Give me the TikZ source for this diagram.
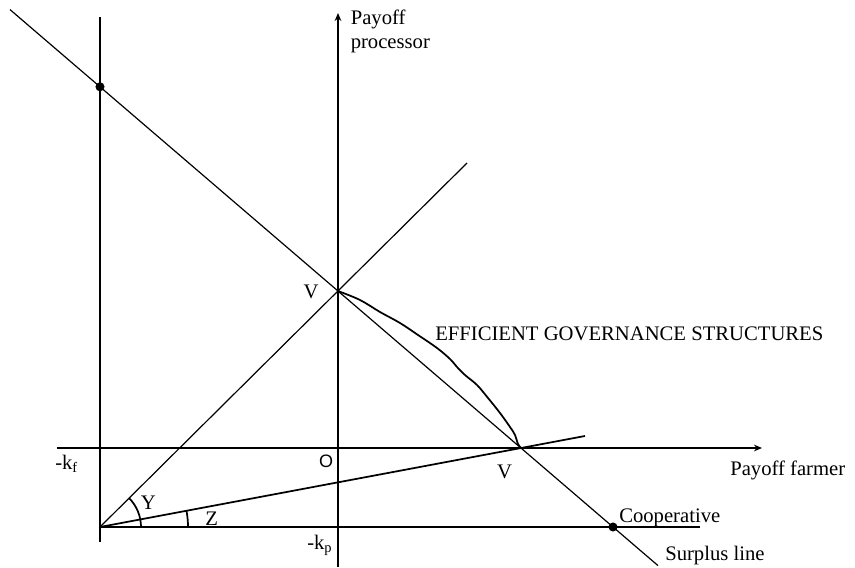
\documentclass[tikz,border=0pt]{standalone}
\usepackage{fontspec}
\setmainfont{Liberation Serif}
\newfontfamily\arialfont{Liberation Sans}
\usetikzlibrary{arrows.meta}

\begin{document}
\begin{tikzpicture}[x=0.75pt, y=0.75pt, font=\fontsize{15.5}{17.5}\selectfont,
    thickline/.style={black, line width=1.3pt},
    thinline/.style={black, line width=0.9pt},
    dot/.style={circle, fill=black, inner sep=0pt, minimum size=6.8pt}]
    \useasboundingbox (-338,-119) rectangle (517,448);
    \coordinate (O) at (0,0);
    \coordinate (Vp) at (0,157);
    \coordinate (Vf) at (183,0);
    \coordinate (A) at (-238,-79);
    \coordinate (Stop) at (-328,438.4);
    \coordinate (Sbot) at (320,-117.6);
    \coordinate (Dtop) at (-238,361.2);
    \coordinate (Coop) at (275,-79);
    \coordinate (Ytop) at (129,285);
    \coordinate (Zend) at (247,12);
    \draw[thickline, -{Stealth[length=6pt,width=5pt]}] (-281,0) -- (424,0);
    \draw[thickline, -{Stealth[length=6pt,width=5pt]}] (0,-119) -- (0,435);
    \draw[thickline] (-238,-94) -- (-238,431);
    \draw[thickline] (A) -- (362,-79);
    \draw[thinline] (Stop) -- (Sbot);
    \draw[thinline] (A) -- (Ytop);
    \draw[thickline] (A) -- (Zend);
    \draw[thickline] plot[smooth, tension=0.6] coordinates {(Vp) (22,148) (42,136) (62,125) (80,113) (99,100) (112,89) (119,81) (127,73) (139,63) (150,50) (162,35) (172,21) (177,13) (180,4) (Vf)};
    \draw[thickline] (-197,-79) arc (0:45:41);
    \draw[thickline] (-150,-79) arc (0:10.6:88);
    \node[dot] (dkf) at (Dtop) {};
    \node[dot] (dcoop) at (Coop) {};
    \node[anchor=north west, align=left, inner sep=0pt] (ylab) at (12.5,438) {Payoff\\processor};
    \node[anchor=base west, inner sep=0pt] (xlab) at (392,-27) {Payoff farmer};
    \node[inner sep=0pt] (vtop) at (-27,156.5) {V};
    \node[inner sep=0pt] (vright) at (166.5,-23.5) {V};
    \node[anchor=west, inner sep=0pt] (eff) at (97,114.5) {EFFICIENT GOVERNANCE STRUCTURES};
    \node[anchor=base west, inner sep=0pt] (coop) at (281,-74.7) {Cooperative};
    \node[anchor=base west, inner sep=0pt] (surplus) at (327,-112) {Surplus line};
    \node[anchor=base west, inner sep=0pt] (kf) at (-283,-21.3) {-k\textsubscript{f}};
    \node[anchor=base west, inner sep=0pt] (kp) at (-31,-101.3) {-k\textsubscript{p}};
    \node[inner sep=0pt, font=\arialfont\fontsize{13.5}{15}\selectfont] (orig) at (-12,-13.7) {O};
    \node[inner sep=0pt] (ylet) at (-189.7,-54.7) {Y};
    \node[inner sep=0pt] (zlet) at (-126.3,-70.3) {Z};
\end{tikzpicture}
\end{document}
